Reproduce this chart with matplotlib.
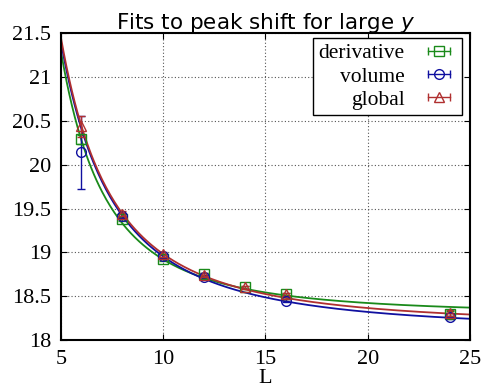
import numpy as np
import matplotlib.pyplot as plt
from matplotlib.lines import Line2D
from matplotlib.legend_handler import HandlerLine2D, HandlerTuple

# measured points
L_der = [6, 8, 10, 12, 14, 16, 24]
y_der = [20.29, 19.38, 18.92, 18.75, 18.60, 18.52, 18.30]
e_der = [0.05, 0.02, 0.02, 0.02, 0.02, 0.02, 0.03]

L_vol = [6, 8, 10, 12, 16, 24]
y_vol = [20.14, 19.42, 18.96, 18.72, 18.45, 18.26]
e_vol = [0.42, 0.03, 0.02, 0.02, 0.02, 0.02]

L_glo = [6, 8, 10, 12, 14, 16, 24]
y_glo = [20.44, 19.44, 18.98, 18.74, 18.60, 18.52, 18.31]
e_glo = [0.12, 0.03, 0.03, 0.02, 0.02, 0.02, 0.03]

# fit parameters y = a + b * L^(-c)
fit_der = (18.29, 112.0, 2.25)
fit_vol = (18.10, 76.0, 1.95)
fit_glo = (18.16, 82.1, 2.0)

green = '#1a8a1a'
blue = '#1010a0'
red = '#b03030'

fig = plt.figure(figsize=(4.85, 3.9), dpi=100)
ax = fig.add_axes([0.1258, 0.128, 0.8432, 0.787])

Lf = np.linspace(5, 25, 300)
series = [
    ('derivative', L_der, y_der, e_der, fit_der, green, 's'),
    ('volume', L_vol, y_vol, e_vol, fit_vol, blue, 'o'),
    ('global', L_glo, y_glo, e_glo, fit_glo, red, '^'),
]
handles = []
hmap = {}
for name, L, y, e, fit, col, mk in series:
    a, b, c = fit
    ax.plot(Lf, a + b * Lf ** (-c), color=col, lw=1.3)
    ax.errorbar(L, y, yerr=e, fmt=mk, mfc='none', mec=col, ecolor=col,
                ms=7, mew=1.0, capsize=3, elinewidth=1.0)
    # gnuplot-like key sample: horizontal bar with caps and a marker
    bar = Line2D([], [], color=col, marker='|', ms=6, mew=1.0, lw=1.0)
    dot = Line2D([], [], color=col, marker=mk, mfc='none', mec=col,
                 ms=7, mew=1.0, lw=0)
    hmap[bar] = HandlerLine2D(numpoints=2)
    hmap[dot] = HandlerLine2D(numpoints=1)
    handles.append((bar, dot))

ax.set_xlim(5, 25)
ax.set_ylim(18, 21.5)
ax.set_xticks([5, 10, 15, 20, 25])
ax.set_yticks([18, 18.5, 19, 19.5, 20, 20.5, 21, 21.5])
ax.set_yticklabels(['18', '18.5', '19', '19.5', '20', '20.5', '21', '21.5'])
ax.grid(True, linestyle=(0, (1, 2)), color='#555555', lw=0.8)
ax.tick_params(direction='in', top=True, right=True, length=4,
               labelsize=16, pad=7)
for lab in ax.get_xticklabels() + ax.get_yticklabels():
    lab.set_family('Liberation Serif')
for sp in ax.spines.values():
    sp.set_linewidth(1.5)

ax.set_xlabel('L', family='Liberation Serif', fontsize=16, labelpad=0)
ax.set_ylabel('$y$', fontsize=15, labelpad=12)
ax.set_title('Fits to peak shift for large $y$', fontsize=15.5,
             family='DejaVu Sans', pad=3)

hmap[tuple] = HandlerTuple(ndivide=1)
leg = ax.legend(handles, [s[0] for s in series], handler_map=hmap,
                loc='upper right', bbox_to_anchor=(0.98, 0.985),
                borderaxespad=0.0,
                markerfirst=False, fancybox=False, framealpha=1,
                edgecolor='black', handlelength=1.6, handletextpad=0.8,
                borderpad=0.25, labelspacing=0.15,
                prop={'family': 'Liberation Serif', 'size': 15.5})
leg.get_frame().set_linewidth(1.0)
for t in leg.get_texts():
    t.set_ha('right')

fig.savefig('out.png', dpi=100)
